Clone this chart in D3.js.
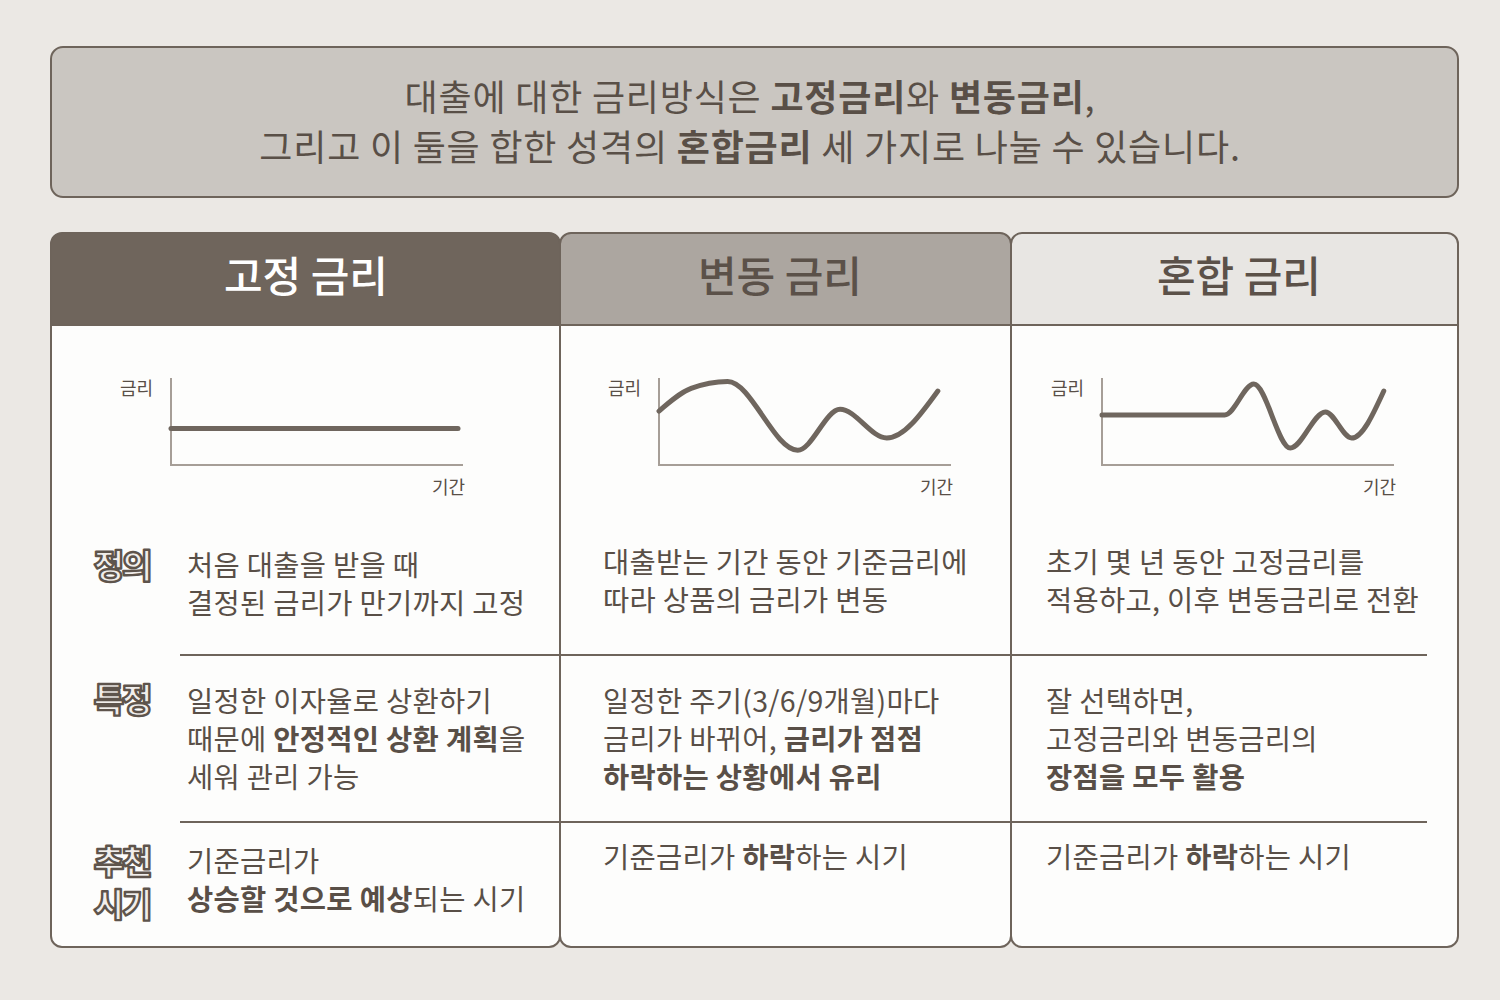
<!DOCTYPE html>
<html>
<head>
<meta charset="utf-8">
<script src="https://cdn.jsdelivr.net/npm/d3@7"></script>
<style>
  html, body { margin: 0; padding: 0; background: #ebe8e4; }
  svg { display: block; }
  text { font-family: "Noto Sans CJK KR", "Noto Sans", sans-serif; }
</style>
</head>
<body>
<div id="chart"></div>
<script>
// --- data -----------------------------------------------------------------
const introLines = [
  "대출에 대한 금리방식은 **고정금리**와 **변동금리**,",
  "그리고 이 둘을 합한 성격의 **혼합금리** 세 가지로 나눌 수 있습니다."
];

const columns = ["고정 금리", "변동 금리", "혼합 금리"];
const rowLabels = [["정의"], ["특정"], ["추천", "시기"]];

// each cell: list of lines, **...** marks bold text
const cellText = [
  [
    ["처음 대출을 받을 때", "결정된 금리가 만기까지 고정"],
    ["일정한 이자율로 상환하기", "때문에 **안정적인 상환 계획**을", "세워 관리 가능"],
    ["기준금리가", "**상승할 것으로 예상**되는 시기"]
  ],
  [
    ["대출받는 기간 동안 기준금리에", "따라 상품의 금리가 변동"],
    ["일정한 주기(3/6/9개월)마다", "금리가 바뀌어, **금리가 점점**", "**하락하는 상황에서 유리**"],
    ["기준금리가 **하락**하는 시기"]
  ],
  [
    ["초기 몇 년 동안 고정금리를", "적용하고, 이후 변동금리로 전환"],
    ["잘 선택하면,", "고정금리와 변동금리의", "**장점을 모두 활용**"],
    ["기준금리가 **하락**하는 시기"]
  ]
];

// mini chart series: [time, rate] on a 0-10 scale
const fixedRate    = [[0, 4.2], [10, 4.2]];
const variableRate = [[0, 6.2], [1.1, 8.8], [2.35, 9.6], [4.75, 1.7], [6.2, 6.4], [7.8, 3.1], [9.55, 8.5]];
const mixedRate    = [[0, 5.75], [4.2, 5.75], [5.2, 9.3], [6.45, 1.95], [7.65, 6.1], [8.55, 3.1], [9.65, 8.5]];
const rateSeries = [fixedRate, variableRate, mixedRate];
const axisLabels = { y: "금리", x: "기간" };

// --- layout ---------------------------------------------------------------
const W = 1500, H = 1000;
const dark = "#6e645b", textColor = "#594f47";
const headerFill = ["#6f655c", "#aca6a0", "#e8e6e3"];
const headerText = ["#ffffff", "#5b5149", "#5b5149"];
const colEdges = [51, 560, 1011, 1458];
const titleX = [306, 780, 1239];
const tableTop = 233, headBottom = 325, tableBottom = 947;
const textX = [187, 603, 1046];
const rowStart = [[566, 563, 563], [702, 702, 702], [862, 858, 858]];
const lineGap = 38;
const sepY = [655, 822];
const sepX = [[180, 560], [560, 1011], [1011, 1427]];

// mini chart frames: origin x, axis right end
const chartFrame = [
  { x0: 171, x1: 463, lineEnd: 458 },
  { x0: 659, x1: 951 },
  { x0: 1102, x1: 1394 }
];
const chartTop = 378, chartBottom = 465;

const svg = d3.select("#chart").append("svg")
  .attr("width", W)
  .attr("height", H);

svg.append("rect").attr("width", W).attr("height", H).attr("fill", "#ebe8e4");

// append text with **bold** segments as tspans
function richLine(sel, str) {
  const parts = str.split("**");
  parts.forEach((p, i) => {
    if (!p) return;
    sel.append("tspan")
      .attr("font-weight", i % 2 ? 700 : 400)
      .text(p);
  });
}

// --- intro box ------------------------------------------------------------
svg.append("rect")
  .attr("x", 51).attr("y", 47)
  .attr("width", 1407).attr("height", 150)
  .attr("rx", 12)
  .attr("fill", "#cac6c1")
  .attr("stroke", dark)
  .attr("stroke-width", 2);

introLines.forEach((ln, i) => {
  const t = svg.append("text")
    .attr("x", 750)
    .attr("y", 98 + i * 50)
    .attr("dy", "0.36em")
    .attr("text-anchor", "middle")
    .attr("font-size", 36)
    .attr("letter-spacing", 0.8)
    .attr("fill", textColor);
  richLine(t, ln);
});

// --- table columns --------------------------------------------------------
const defs = svg.append("defs");

// draw right to left so the left cards' borders stay on top
[2, 1, 0].forEach(c => {
  const x = colEdges[c], w = colEdges[c + 1] - colEdges[c];
  const h = tableBottom - tableTop;
  defs.append("clipPath").attr("id", "card" + c)
    .append("rect")
    .attr("x", x).attr("y", tableTop)
    .attr("width", w).attr("height", h).attr("rx", 11);

  const g = svg.append("g");
  g.append("rect")
    .attr("x", x).attr("y", tableTop)
    .attr("width", w).attr("height", h).attr("rx", 11)
    .attr("fill", "#fdfdfc");

  g.append("rect")
    .attr("clip-path", `url(#card${c})`)
    .attr("x", x).attr("y", tableTop)
    .attr("width", w).attr("height", headBottom - tableTop)
    .attr("fill", headerFill[c]);

  g.append("line")
    .attr("x1", x).attr("x2", x + w)
    .attr("y1", headBottom).attr("y2", headBottom)
    .attr("stroke", dark).attr("stroke-width", 2);

  g.append("rect")
    .attr("x", x).attr("y", tableTop)
    .attr("width", w).attr("height", h).attr("rx", 11)
    .attr("fill", "none")
    .attr("stroke", dark)
    .attr("stroke-width", 2);

  g.append("text")
    .attr("x", titleX[c])
    .attr("y", 277)
    .attr("dy", "0.36em")
    .attr("text-anchor", "middle")
    .attr("font-size", 42)
    .attr("font-weight", 500)
    .attr("fill", headerText[c])
    .text(columns[c]);

  // row separators
  sepY.forEach(y => {
    g.append("line")
      .attr("x1", sepX[c][0]).attr("x2", sepX[c][1])
      .attr("y1", y).attr("y2", y)
      .attr("stroke", dark).attr("stroke-width", 2);
  });

  // cell text
  cellText[c].forEach((lines, r) => {
    lines.forEach((ln, k) => {
      const t = g.append("text")
        .attr("x", textX[c])
        .attr("y", rowStart[r][c] + k * lineGap)
        .attr("dy", "0.36em")
        .attr("font-size", 28.5)
        .attr("letter-spacing", 0.3)
        .attr("fill", textColor);
      richLine(t, ln);
    });
  });

  // mini chart
  const f = chartFrame[c];
  const xs = d3.scaleLinear().domain([0, 10]).range([f.x0, f.lineEnd || f.x1]);
  const ys = d3.scaleLinear().domain([0, 10]).range([chartBottom, chartTop]);

  g.append("path")
    .attr("d", `M${f.x0},${chartTop}V${chartBottom}H${f.x1}`)
    .attr("fill", "none")
    .attr("stroke", "#a69e97")
    .attr("stroke-width", 2);

  const line = d3.line()
    .x(d => xs(d[0]))
    .y(d => ys(d[1]))
    .curve(d3.curveMonotoneX);

  g.append("path")
    .datum(rateSeries[c])
    .attr("d", line)
    .attr("fill", "none")
    .attr("stroke", "#6f665e")
    .attr("stroke-width", 5)
    .attr("stroke-linecap", "round");

  g.append("text")
    .attr("x", f.x0 - 18).attr("y", 389)
    .attr("dy", "0.36em")
    .attr("text-anchor", "end")
    .attr("font-size", 18)
    .attr("fill", textColor)
    .text(axisLabels.y);

  g.append("text")
    .attr("x", f.x1 + 2).attr("y", 488)
    .attr("dy", "0.36em")
    .attr("text-anchor", "end")
    .attr("font-size", 18)
    .attr("fill", textColor)
    .text(axisLabels.x);
});

// --- row labels (outlined), multi-line labels share one text element -------
const labelY = [566, 700, 862];
rowLabels.forEach((lbl, r) => {
  const t = svg.append("text")
    .attr("y", labelY[r])
    .attr("text-anchor", "middle")
    .attr("font-size", 33)
    .attr("font-weight", 900)
    .attr("letter-spacing", -2)
    .attr("fill", "#f1eeeb")
    .attr("stroke", "#5e544c")
    .attr("stroke-width", 2.4)
    .attr("stroke-linejoin", "round");
  lbl.forEach((s, k) => {
    t.append("tspan")
      .attr("x", 122)
      .attr("dy", k === 0 ? "0.36em" : 43)
      .text(s);
  });
});
</script>
</body>
</html>
